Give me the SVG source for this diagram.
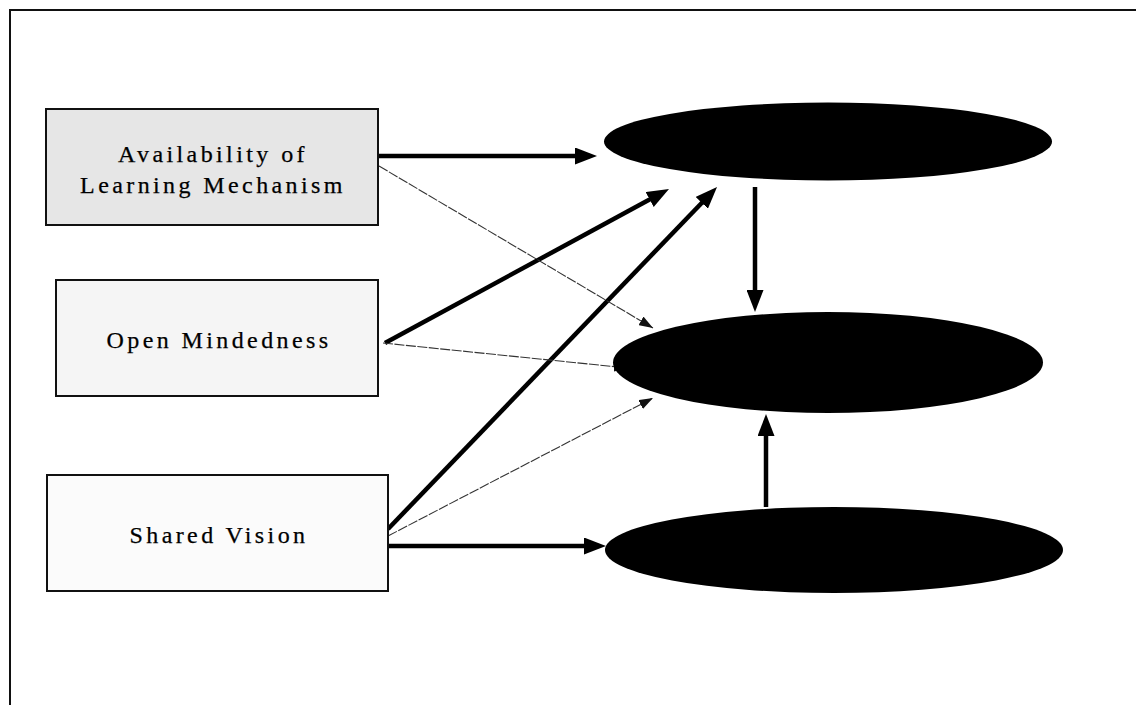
<svg xmlns="http://www.w3.org/2000/svg" width="1136" height="705" viewBox="0 0 1136 705">
  <style>
    .frame { stroke: #111; stroke-width: 2; fill: none; }
    .box { stroke: #111; stroke-width: 2; }
    .label { font-family: "Liberation Serif", "Times New Roman", serif; font-size: 24px; letter-spacing: 3.4px; fill: #000; stroke: #000; stroke-width: 0.25; text-anchor: middle; }
    .blob { fill: #000; }
    .thick { stroke: #000; stroke-width: 4.5; fill: none; }
    .thin { stroke: #333; stroke-width: 1.1; fill: none; stroke-dasharray: 10 1.5; }
  </style>
  <defs>
    <marker id="headThick" viewBox="0 0 22 17" refX="12" refY="8.5" markerWidth="22" markerHeight="17" markerUnits="userSpaceOnUse" orient="auto">
      <path d="M0,0 L22,8.5 L0,17 Z" fill="#000"/>
    </marker>
    <marker id="headThin" viewBox="0 0 14 10" refX="14" refY="5" markerWidth="14" markerHeight="10" markerUnits="userSpaceOnUse" orient="auto">
      <path d="M0,0 L14,5 L0,10 Z" fill="#111"/>
    </marker>
  </defs>

  <rect width="1136" height="705" fill="#fff"/>

  <!-- page frame: top and left rules only -->
  <path class="frame" d="M10,705 L10,10 L1136,10"/>

  <!-- connectors -->
  <g id="connectors">
    <line class="thick" x1="378" y1="156" x2="587" y2="156" marker-end="url(#headThick)"/>
    <line class="thick" x1="385" y1="343" x2="660.2" y2="193.8" marker-end="url(#headThick)"/>
    <line class="thick" x1="388" y1="529" x2="710.1" y2="194.2" marker-end="url(#headThick)"/>
    <line class="thick" x1="388" y1="546" x2="596" y2="546" marker-end="url(#headThick)"/>
    <line class="thick" x1="755" y1="187" x2="755" y2="302" marker-end="url(#headThick)"/>
    <line class="thick" x1="766" y1="507" x2="766" y2="424" marker-end="url(#headThick)"/>
    <line class="thin" x1="379" y1="166" x2="653" y2="328" marker-end="url(#headThin)"/>
    <line class="thin" x1="383" y1="343" x2="628" y2="368" marker-end="url(#headThin)"/>
    <line class="thin" x1="388" y1="536" x2="653" y2="398" marker-end="url(#headThin)"/>
  </g>

  <!-- source boxes -->
  <g id="learning-mechanism">
    <rect class="box" x="46" y="109" width="332" height="116" fill="#e6e6e6"/>
    <text class="label" x="213" y="162">Availability of</text>
    <text class="label" x="213" y="193">Learning Mechanism</text>
  </g>
  <g id="open-mindedness">
    <rect class="box" x="56" y="280" width="322" height="116" fill="#f5f5f5"/>
    <text class="label" x="219" y="348">Open Mindedness</text>
  </g>
  <g id="shared-vision">
    <rect class="box" x="47" y="475" width="341" height="116" fill="#fbfbfb"/>
    <text class="label" x="219" y="543">Shared Vision</text>
  </g>

  <!-- outcome ellipses -->
  <g id="outcome-top">
    <ellipse class="blob" cx="828" cy="141.5" rx="224" ry="39"/>
  </g>
  <g id="outcome-middle">
    <ellipse class="blob" cx="828" cy="362.5" rx="215" ry="50.5"/>
  </g>
  <g id="outcome-bottom">
    <ellipse class="blob" cx="834" cy="550" rx="229" ry="43"/>
  </g>
</svg>
